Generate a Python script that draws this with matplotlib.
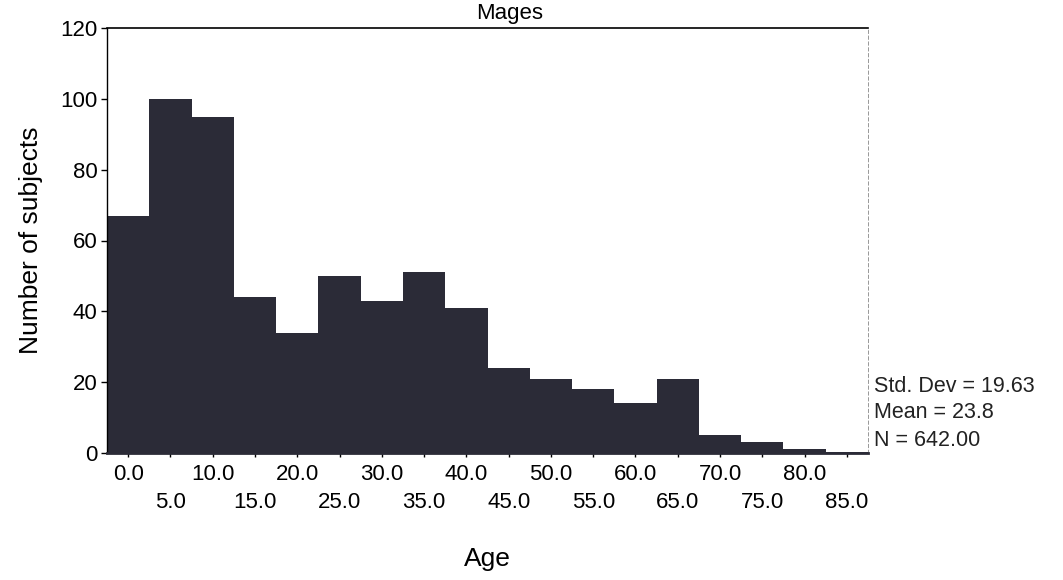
import matplotlib
matplotlib.use("Agg")
import matplotlib.pyplot as plt
import numpy as np

plt.rcParams['font.family'] = ['Liberation Sans', 'DejaVu Sans']

# ---------------- data ----------------
bin_centers = [0, 5, 10, 15, 20, 25, 30, 35, 40, 45, 50, 55, 60, 65, 70, 75, 80, 85]
counts = [67, 100, 95, 44, 34, 50, 43, 51, 41, 24, 21, 18, 14, 21, 5, 3, 1, 0.3]
bin_width = 5
major_ticks = [0, 10, 20, 30, 40, 50, 60, 70, 80]
minor_ticks = [5, 15, 25, 35, 45, 55, 65, 75, 85]
y_ticks = [0, 20, 40, 60, 80, 100, 120]
stats = ["Std. Dev = 19.63", "Mean = 23.8", "N = 642.00"]

bar_color = '#2b2b37'

fig = plt.figure(figsize=(10.63, 5.8), dpi=100)
ax = fig.add_axes([107 / 1063, 1 - 453 / 580, (868 - 107) / 1063, (453 - 28) / 580])

# histogram as one filled step shape (no seams between bins)
edges = np.append(np.array(bin_centers) - bin_width / 2, bin_centers[-1] + bin_width / 2)
ax.stairs(counts, edges, fill=True, color=bar_color, linewidth=0)

ax.set_xlim(-2.5, 87.5)
ax.set_ylim(0, 120)

# spines: top / left solid, right thin dashed, bottom heavy baseline
ax.spines['top'].set_linewidth(1.2)
ax.spines['left'].set_linewidth(1.0)
ax.spines['right'].set_linewidth(0.6)
ax.spines['right'].set_linestyle((0, (4, 3)))
ax.spines['right'].set_color('#888888')
ax.spines['bottom'].set_linewidth(2.0)
ax.spines['bottom'].set_color(bar_color)

ax.set_yticks(y_ticks)
ax.set_yticklabels([str(v) for v in y_ticks])
ax.set_xticks(major_ticks)
ax.set_xticklabels(["%.1f" % v for v in major_ticks])
ax.set_xticks(minor_ticks, minor=True)
ax.set_xticklabels(["%.1f" % v for v in minor_ticks], minor=True)

ax.tick_params(axis='y', length=4, width=1, pad=3, labelsize=16)
ax.tick_params(axis='x', which='major', length=3, width=1, pad=5, labelsize=16)
ax.tick_params(axis='x', which='minor', length=3, width=1, pad=25, labelsize=16)

ax.set_ylabel("Number of subjects", fontsize=19, labelpad=12)
fig.text(487 / 1063, 1 - 559 / 580, "Age", fontsize=19, ha='center', va='center')

# title sits right at the top edge
fig.text(510 / 1063, 1 - 3 / 580, "Mages", fontsize=16, ha='center', va='top')

for k, s in enumerate(stats):
    fig.text(874 / 1063, 1 - (386 + 27 * k) / 580, s, fontsize=15.5,
             ha='left', va='center', color='#222222')

fig.savefig("out.png", dpi=100)
